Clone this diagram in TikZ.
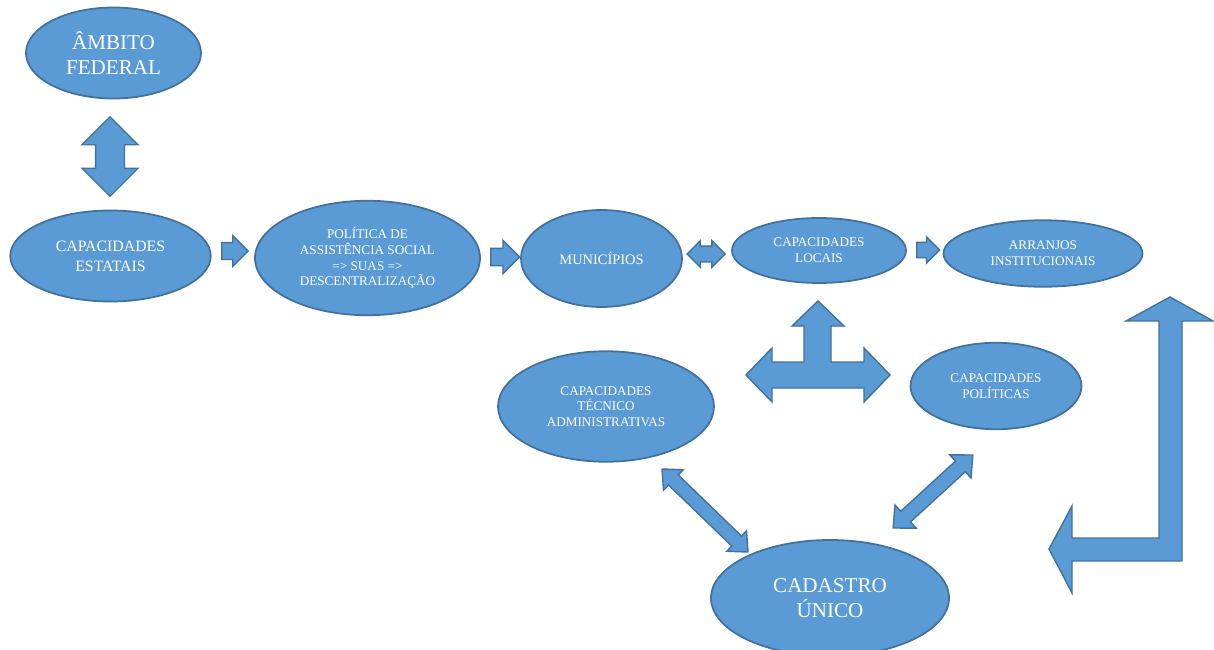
\documentclass[tikz,border=0pt]{standalone}
\usepackage{fontspec}
\setmainfont{Liberation Serif}
\usetikzlibrary{shapes.geometric,shapes.arrows}
\definecolor{BubbleFill}{HTML}{5B9BD5}
\definecolor{BubbleLine}{HTML}{41719C}

\begin{document}
\begin{tikzpicture}[
	% Style for the blue ellipses
	bubble/.style={
		ellipse,
		fill=BubbleFill,
		draw=BubbleLine,
		line width=1pt,
		text=white,
		align=center,
		inner sep=0pt
	},
	% Text sizes inside the ellipses
	text large/.style={font=\fontsize{12}{14}\selectfont},
	text mid/.style={font=\fontsize{9}{11.3}\selectfont},
	text small/.style={font=\fontsize{7.5}{8.9}\selectfont},
	% Style for the block arrows (inner ysep = half the shaft)
	block/.style={
		fill=BubbleFill,
		draw=BubbleLine,
		line width=0.8pt,
		line join=miter,
		inner xsep=0pt
	}
	]
	
	\useasboundingbox (0,0) rectangle (24.28,12.98);
	
	% ================= NODES =================
	\node[bubble, text large, minimum width=3.50cm, minimum height=1.82cm] (ambito)     at ( 2.27, 11.92) {ÂMBITO\\FEDERAL};
	\node[bubble, text mid,   minimum width=4.01cm, minimum height=1.82cm] (estatais)   at ( 2.21,  7.86) {CAPACIDADES\\ESTATAIS};
	\node[bubble, text small, minimum width=4.50cm, minimum height=2.29cm] (politica)   at ( 7.35,  7.82) {POLÍTICA DE\\ASSISTÊNCIA SOCIAL\\=> SUAS =>\\DESCENTRALIZAÇÃO};
	\node[bubble, font=\fontsize{8.2}{9.5}\selectfont, minimum width=3.22cm, minimum height=1.94cm] (municipios) at (12.03,  7.81) {MUNICÍPIOS};
	\node[bubble, text small, minimum width=3.48cm, minimum height=1.30cm] (locais)     at (16.38,  7.97) {CAPACIDADES\\LOCAIS};
	\node[bubble, text small, minimum width=3.98cm, minimum height=1.33cm] (arranjos)   at (20.86,  7.91) {ARRANJOS\\INSTITUCIONAIS};
	\node[bubble, text small, minimum width=4.32cm, minimum height=2.21cm] (tecnico)    at (12.12,  4.85) {CAPACIDADES\\TÉCNICO\\ADMINISTRATIVAS};
	\node[bubble, text small, minimum width=3.42cm, minimum height=1.73cm] (politicas)  at (19.92,  5.26) {CAPACIDADES\\POLÍTICAS};
	\node[bubble, text large, minimum width=4.76cm, minimum height=2.32cm] (cadastro)   at (16.60,  1.02) {CADASTRO\\ÚNICO};
	
	% ================= ARROWS =================
	\node[block, double arrow, rotate=90, minimum height=1.59cm, inner ysep=0.275cm, double arrow head extend=0.27cm] (ambitoEstatais) at (2.20, 9.85) {};
	\node[block, single arrow, anchor=tail, minimum height=0.53cm, inner ysep=0.155cm, single arrow head extend=0.14cm] (estataisPolitica) at (4.42, 7.96) {};
	\node[block, single arrow, anchor=tail, minimum height=0.58cm, inner ysep=0.16cm, single arrow head extend=0.16cm] (politicaMunicipios) at (9.80, 7.84) {};
	\node[block, double arrow, minimum height=0.76cm, inner ysep=0.145cm, double arrow head extend=0.105cm] (municipiosLocais) at (14.12, 7.90) {};
	\node[block, single arrow, anchor=tail, minimum height=0.46cm, inner ysep=0.14cm, single arrow head extend=0.11cm] (locaisArranjos) at (18.32, 7.98) {};
	\node[block, double arrow, rotate=-44, minimum height=2.39cm, inner ysep=0.125cm, double arrow head extend=0.145cm, double arrow tip angle=84] (tecnicoCadastro) at (14.10, 2.77) {};
	\node[block, double arrow, rotate=42.5, minimum height=2.16cm, inner ysep=0.13cm, double arrow head extend=0.17cm, double arrow tip angle=86] (politicasCadastro) at (18.66, 3.15) {};
	
	% three headed arrow below the local capacities
	\draw[block] (16.36, 6.96) -- (16.88, 6.46) -- (16.62, 6.46) -- (16.62, 5.74)
		-- (17.28, 5.74) -- (17.28, 6.02) -- (17.80, 5.48) -- (17.28, 4.94)
		-- (17.28, 5.22) -- (15.44, 5.22) -- (15.44, 4.94) -- (14.92, 5.48)
		-- (15.44, 6.02) -- (15.44, 5.74) -- (16.08, 5.74) -- (16.08, 6.46)
		-- (15.84, 6.46) -- cycle;
	
	% bent arrow on the right side
	\draw[block] (23.40, 7.04) -- (24.26, 6.56) -- (23.64, 6.56) -- (23.64, 1.76)
		-- (21.44, 1.76) -- (21.44, 1.12) -- (20.98, 2.00) -- (21.44, 2.86)
		-- (21.44, 2.22) -- (23.18, 2.22) -- (23.18, 6.56) -- (22.52, 6.56) -- cycle;
	
\end{tikzpicture}
\end{document}
